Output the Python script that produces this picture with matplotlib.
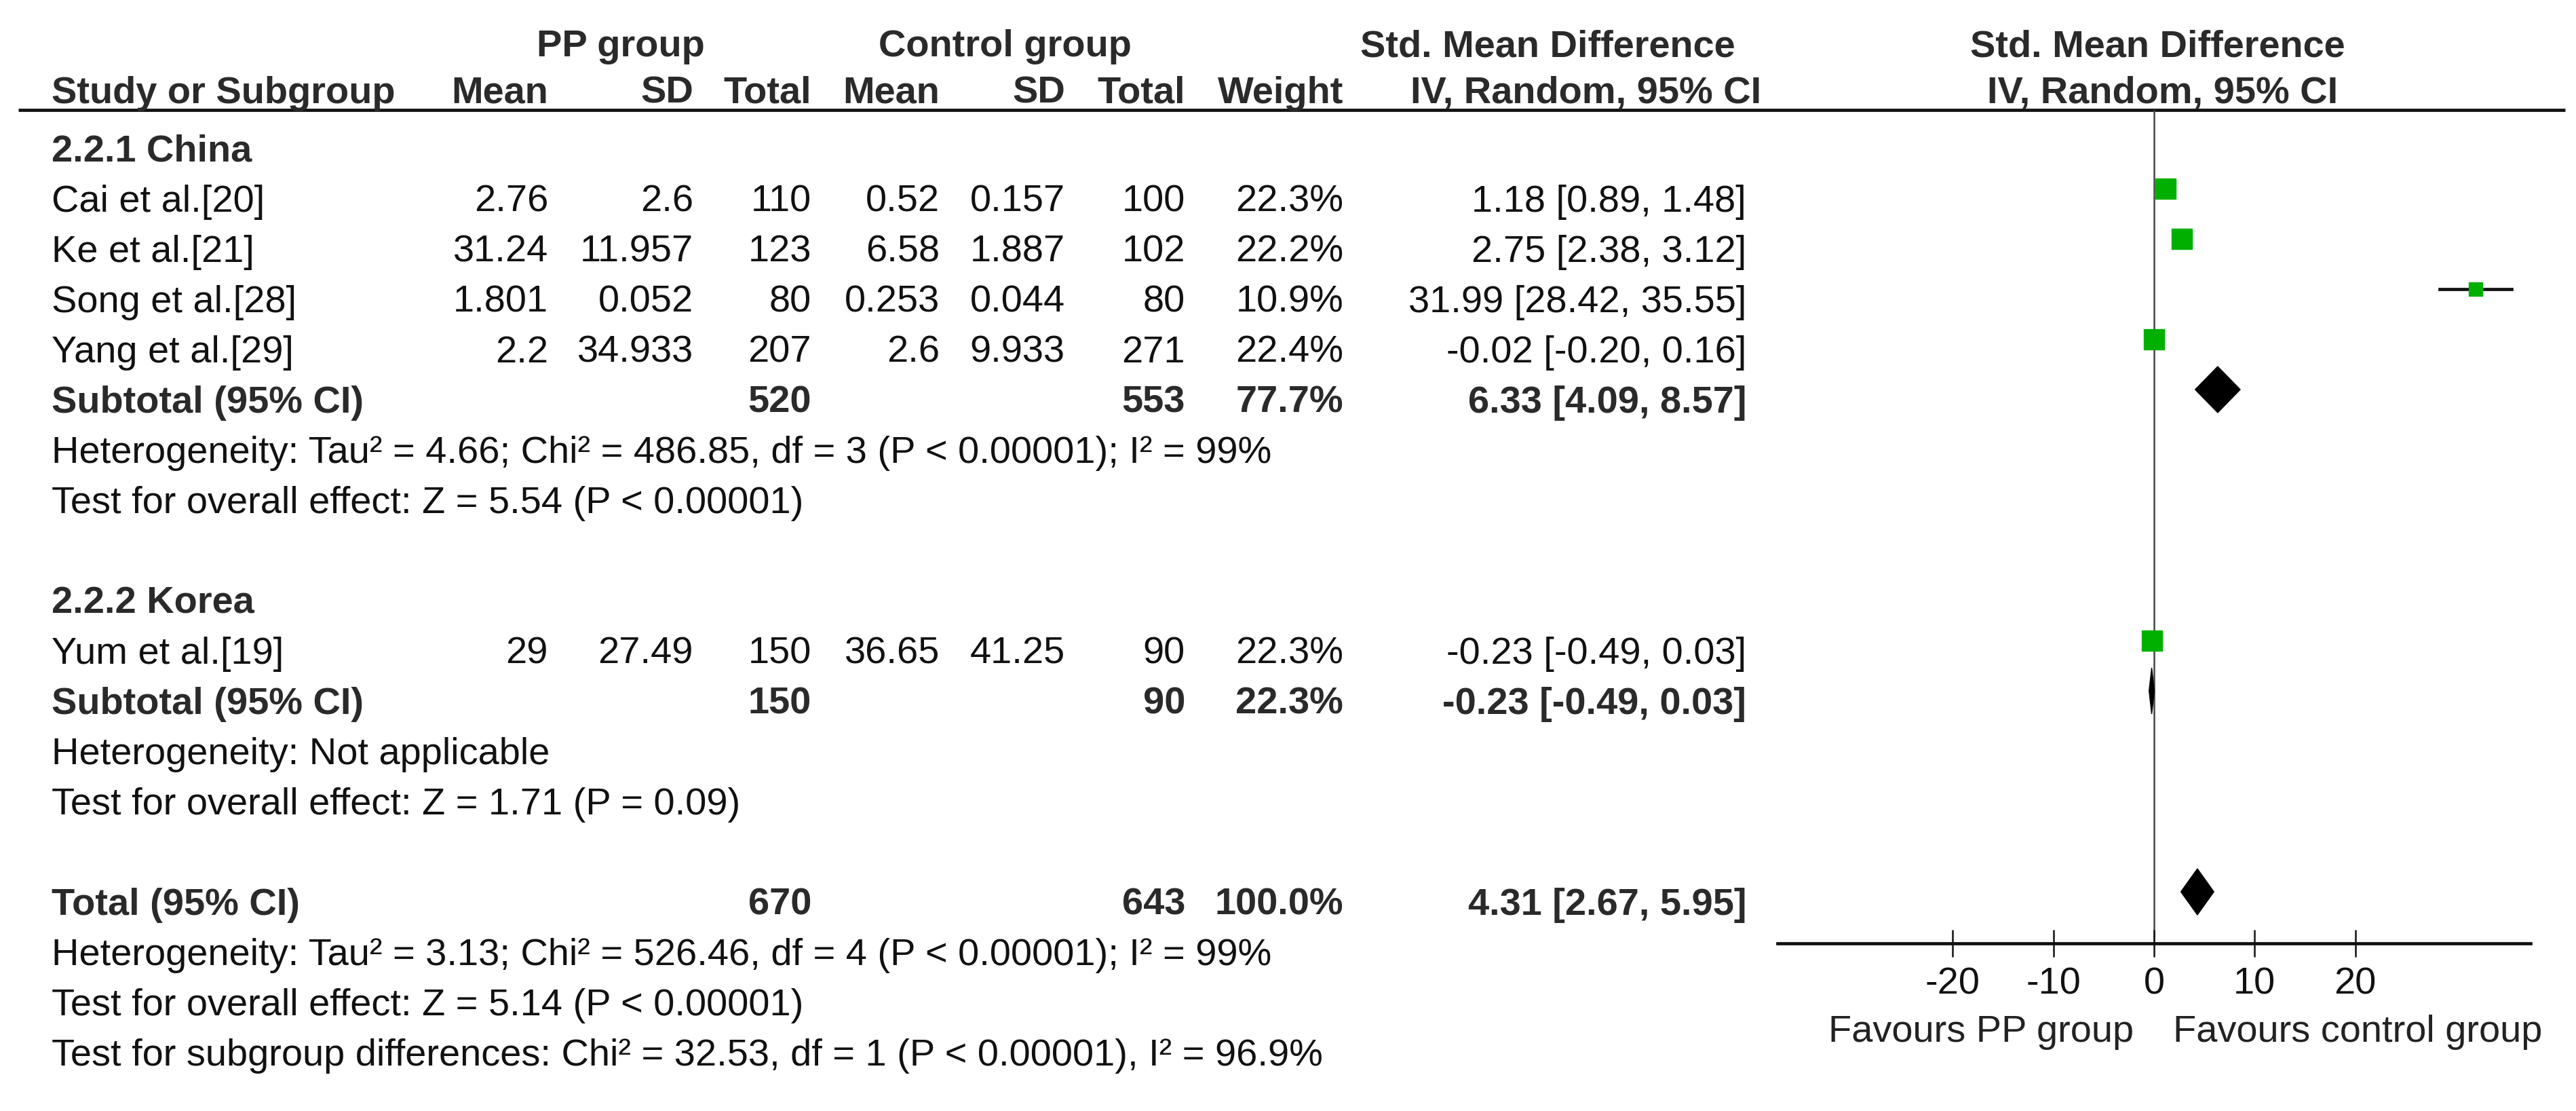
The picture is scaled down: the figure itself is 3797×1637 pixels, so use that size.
import numpy as np
import matplotlib.pyplot as plt

# ---- data ----
studies = ['Cai et al.[20]', 'Ke et al.[21]', 'Song et al.[28]', 'Yang et al.[29]', 'Yum et al.[19]']
study_group = [0, 0, 0, 0, 1]
pp_mean = ['2.76', '31.24', '1.801', '2.2', '29']
pp_sd = ['2.6', '11.957', '0.052', '34.933', '27.49']
pp_n = [110, 123, 80, 207, 150]
ctrl_mean = ['0.52', '6.58', '0.253', '2.6', '36.65']
ctrl_sd = ['0.157', '1.887', '0.044', '9.933', '41.25']
ctrl_n = [100, 102, 80, 271, 90]
weight = [22.3, 22.2, 10.9, 22.4, 22.3]
smd = [1.18, 2.75, 31.99, -0.02, -0.23]
smd_lo = [0.89, 2.38, 28.42, -0.20, -0.49]
smd_hi = [1.48, 3.12, 35.55, 0.16, 0.03]

group_names = ['2.2.1 China', '2.2.2 Korea']
sub_pp_n = [520, 150]
sub_ctrl_n = [553, 90]
sub_weight = [77.7, 22.3]
sub_smd = [6.33, -0.23]
sub_lo = [4.09, -0.49]
sub_hi = [8.57, 0.03]
sub_het = ['Heterogeneity: Tau\u00b2 = 4.66; Chi\u00b2 = 486.85, df = 3 (P < 0.00001); I\u00b2 = 99%',
           'Heterogeneity: Not applicable']
sub_test = ['Test for overall effect: Z = 5.54 (P < 0.00001)',
            'Test for overall effect: Z = 1.71 (P = 0.09)']

total_pp_n, total_ctrl_n, total_weight = 670, 643, 100.0
total_smd, total_lo, total_hi = 4.31, 2.67, 5.95
total_notes = ['Heterogeneity: Tau\u00b2 = 3.13; Chi\u00b2 = 526.46, df = 4 (P < 0.00001); I\u00b2 = 99%',
               'Test for overall effect: Z = 5.14 (P < 0.00001)',
               'Test for subgroup differences: Chi\u00b2 = 32.53, df = 1 (P < 0.00001), I\u00b2 = 96.9%']

xticks = [-20, -10, 0, 10, 20]
xtick_labels = ['-20', '-10', '0', '10', '20']

# ---- layout (pixels of the 3797x1637 output) ----
W, H, DPI = 3797, 1637, 100
FS = 40.3
BOLD_C = '#2a2a2a'
TXT_C = '#111111'
plt.rcParams['font.family'] = ['Liberation Sans', 'DejaVu Sans']

fig = plt.figure(figsize=(W / DPI, H / DPI), dpi=DPI)
tab = fig.add_axes([0, 0, 1, 1])
tab.set_xlim(0, W)
tab.set_ylim(H, 0)
tab.axis('off')


def put(x, y, s, ha='left', bold=False, color=None):
    tab.text(x, y, s, ha=ha, va='baseline', fontsize=FS,
             fontweight='bold' if bold else 'normal',
             color=color or (BOLD_C if bold else TXT_C))


ROW0, ROW_H = 312, 74          # baseline of first study row, row pitch


def base(r):
    return ROW0 + (r - 1) * ROW_H


LABEL_X = 76
col_right = [808, 1022, 1196, 1385, 1570, 1747, 1980, 2574]

# headers
put(915, 83, 'PP group', ha='center', bold=True)
put(1481, 83, 'Control group', ha='center', bold=True)
put(2281, 83, 'Std. Mean Difference', ha='center', bold=True)
put(3180, 83, 'Std. Mean Difference', ha='center', bold=True)
put(LABEL_X, 152, 'Study or Subgroup', bold=True)
for x, s in zip(col_right[:7], ['Mean', 'SD', 'Total', 'Mean', 'SD', 'Total', 'Weight']):
    put(x, 152, s, ha='right', bold=True)
put(2338, 152, 'IV, Random, 95% CI', ha='center', bold=True)
put(3188, 152, 'IV, Random, 95% CI', ha='center', bold=True)
tab.plot([27, 3781], [162, 162], color=TXT_C, lw=3.4, solid_capstyle='butt')

# row assignment
group_row = [0, 9]
study_rows = []
for g in range(2):
    idx = [i for i, sg in enumerate(study_group) if sg == g]
    for k, i in enumerate(idx):
        study_rows.append((i, group_row[g] + 1 + k))
study_rows.sort()
sub_rows = [5, 11]
total_row = 15


def ci_text(e, lo, hi):
    return f'{e:.2f} [{lo:.2f}, {hi:.2f}]'


for g in range(2):
    put(LABEL_X, base(group_row[g]), group_names[g], bold=True)
    r = sub_rows[g]
    put(LABEL_X, base(r), 'Subtotal (95% CI)', bold=True)
    put(col_right[2], base(r), str(sub_pp_n[g]), ha='right', bold=True)
    put(col_right[5], base(r), str(sub_ctrl_n[g]), ha='right', bold=True)
    put(col_right[6], base(r), f'{sub_weight[g]:.1f}%', ha='right', bold=True)
    put(col_right[7], base(r), ci_text(sub_smd[g], sub_lo[g], sub_hi[g]), ha='right', bold=True)
    put(LABEL_X, base(r + 1), sub_het[g])
    put(LABEL_X, base(r + 2), sub_test[g])

for i, r in study_rows:
    y = base(r)
    put(LABEL_X, y, studies[i])
    cells = [pp_mean[i], pp_sd[i], str(pp_n[i]), ctrl_mean[i], ctrl_sd[i], str(ctrl_n[i]),
             f'{weight[i]:.1f}%', ci_text(smd[i], smd_lo[i], smd_hi[i])]
    for x, s in zip(col_right, cells):
        put(x, y, s, ha='right')

put(LABEL_X, base(total_row), 'Total (95% CI)', bold=True)
put(col_right[2], base(total_row), str(total_pp_n), ha='right', bold=True)
put(col_right[5], base(total_row), str(total_ctrl_n), ha='right', bold=True)
put(col_right[6], base(total_row), f'{total_weight:.1f}%', ha='right', bold=True)
put(col_right[7], base(total_row), ci_text(total_smd, total_lo, total_hi), ha='right', bold=True)
for k, s in enumerate(total_notes):
    put(LABEL_X, base(total_row + 1 + k), s)

# ---- forest panel ----
ZERO_PX, PPU, XSPAN = 3175, 14.83, 37.4
TOP_PX, AXIS_PX = 162, 1390
fx = fig.add_axes([(ZERO_PX - XSPAN * PPU) / W, 1 - AXIS_PX / H,
                   2 * XSPAN * PPU / W, (AXIS_PX - TOP_PX) / H])
fx.set_xlim(-XSPAN, XSPAN)
fx.set_ylim(AXIS_PX, TOP_PX)
fx.patch.set_visible(False)
for sp in ['top', 'left', 'right']:
    fx.spines[sp].set_visible(False)
fx.spines['bottom'].set_linewidth(3.4)
fx.spines['bottom'].set_color(TXT_C)
fx.set_yticks([])
fx.set_xticks(xticks)
fx.set_xticklabels(xtick_labels)
fx.tick_params(axis='x', direction='inout', length=29, width=1.8, color=TXT_C,
               labelsize=FS, labelcolor=TXT_C, pad=10)
fx.axvline(0, color='#444444', lw=1.8, zorder=1)


def mid(r):
    return base(r) - 34


for i, r in study_rows:
    y = mid(r)
    fx.plot([smd_lo[i], smd_hi[i]], [y, y], color=TXT_C, lw=3.4, zorder=2)
    fx.plot(smd[i], y, 's', ms=4.57 * np.sqrt(weight[i]), color='#00b000',
            mec='#00b000', zorder=3)

DIA_H = 34
for g in range(2):
    y = mid(sub_rows[g])
    fx.fill([sub_lo[g], sub_smd[g], sub_hi[g], sub_smd[g]],
            [y, y - DIA_H, y, y + DIA_H], color='black', zorder=3)
y = mid(total_row)
fx.fill([total_lo, total_smd, total_hi, total_smd],
        [y, y - DIA_H, y, y + DIA_H], color='black', zorder=3)

put(3145, 1535, 'Favours PP group', ha='right', color='#222222')
put(3203, 1535, 'Favours control group', color='#222222')

fig.savefig('out.png', dpi=DPI)
